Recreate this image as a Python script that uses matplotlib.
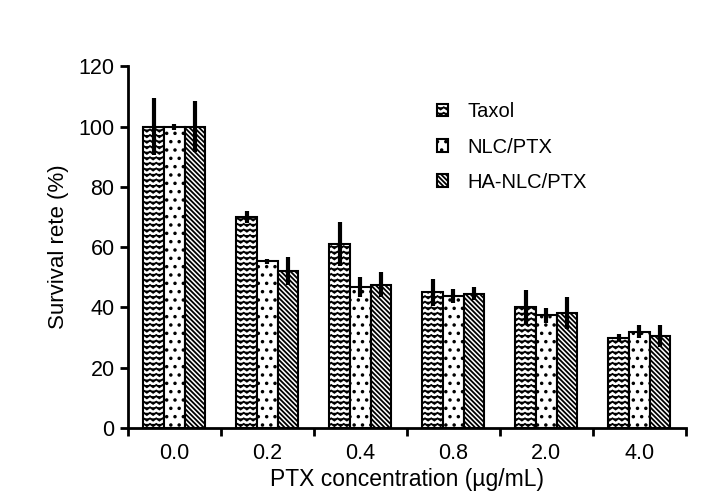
import matplotlib
matplotlib.use("Agg")
import matplotlib.pyplot as plt
import matplotlib.hatch as mhatch
from matplotlib.path import Path
import numpy as np

plt.rcParams['font.family'] = ['Liberation Sans', 'DejaVu Sans']
plt.rcParams['hatch.linewidth'] = 1.3


class ZigzagHatch(mhatch.HatchPatternBase):
    """Rows of small zigzag strokes, used for the '-' hatch character."""
    PERIODS = 16

    def __init__(self, hatch, density):
        self.num_lines = int((hatch.count('-') + hatch.count('+')) * density)
        self.num_vertices = self.num_lines * (2 * self.PERIODS + 1)

    def set_vertices_and_codes(self, vertices, codes):
        n = 2 * self.PERIODS + 1
        steps, stepsize = np.linspace(0.0, 1.0, self.num_lines, False, retstep=True)
        steps += stepsize / 2.
        xs = np.linspace(0.0, 1.0, n)
        amp = stepsize * 0.2
        ys_off = np.where(np.arange(n) % 2 == 0, amp, -amp)
        for i, s in enumerate(steps):
            vertices[i * n:(i + 1) * n, 0] = xs
            vertices[i * n:(i + 1) * n, 1] = s + ys_off
            codes[i * n] = Path.MOVETO
            codes[i * n + 1:(i + 1) * n] = Path.LINETO


mhatch._hatch_types[:] = [ZigzagHatch if t is mhatch.HorizontalHatch else t
                          for t in mhatch._hatch_types]

categories = ["0.0", "0.2", "0.4", "0.8", "2.0", "4.0"]
series = ["Taxol", "NLC/PTX", "HA-NLC/PTX"]
taxol = [100.0, 70.0, 61.0, 45.0, 40.0, 30.0]
taxol_err = [9.3, 2.0, 7.4, 4.5, 5.7, 1.2]
nlc = [100.0, 55.3, 46.7, 43.8, 37.4, 32.0]
nlc_err = [1.0, 0.8, 3.3, 2.2, 2.5, 2.0]
ha = [100.0, 52.0, 47.5, 44.5, 38.2, 30.5]
ha_err = [8.6, 4.7, 4.2, 2.2, 5.3, 3.5]

values = [taxol, nlc, ha]
errors = [taxol_err, nlc_err, ha_err]
hatches = ['---', '..', '\\\\\\\\\\\\\\']

fig = plt.figure(figsize=(7.22, 4.98), dpi=100)
ax = fig.add_axes([0.177, 0.1406, 0.773, 0.7264])

x = np.arange(len(categories))
w = 0.222
for i, (vals, errs, h, name) in enumerate(zip(values, errors, hatches, series)):
    pos = x + (i - 1) * w
    ax.bar(pos, vals, width=w, color='white', edgecolor='black', linewidth=1.5,
           hatch=h, label=name, zorder=2)
    ax.errorbar(pos, vals, yerr=errs, fmt='none', ecolor='black', elinewidth=3,
                capsize=0, zorder=3)

ax.set_xlim(-0.5, len(categories) - 0.5)
ax.set_ylim(0, 120)
ax.set_yticks(np.arange(0, 121, 20))
ax.set_xticks(x)
ax.set_xticklabels(categories)
ax.set_xticks(np.arange(-0.5, len(categories), 1.0), minor=True)
ax.tick_params(axis='x', which='major', length=0, labelsize=15.5, pad=11)
ax.tick_params(axis='x', which='minor', length=6, width=2, direction='out')
ax.tick_params(axis='y', which='major', length=6, width=2, direction='out', labelsize=15.5)
for s in ['top', 'right']:
    ax.spines[s].set_visible(False)
for s in ['left', 'bottom']:
    ax.spines[s].set_linewidth(2)

ax.set_xlabel('PTX concentration (µg/mL)', fontsize=16.5, labelpad=3)
ax.set_ylabel('Survival rete (%)', fontsize=16, labelpad=7)

leg = ax.legend(loc='upper left', bbox_to_anchor=(0.5215, 0.95), frameon=False,
                fontsize=14.5, handlelength=0.55, handleheight=0.55, labelspacing=0.8,
                handletextpad=0.95)

fig.savefig('out.png', dpi=100)
